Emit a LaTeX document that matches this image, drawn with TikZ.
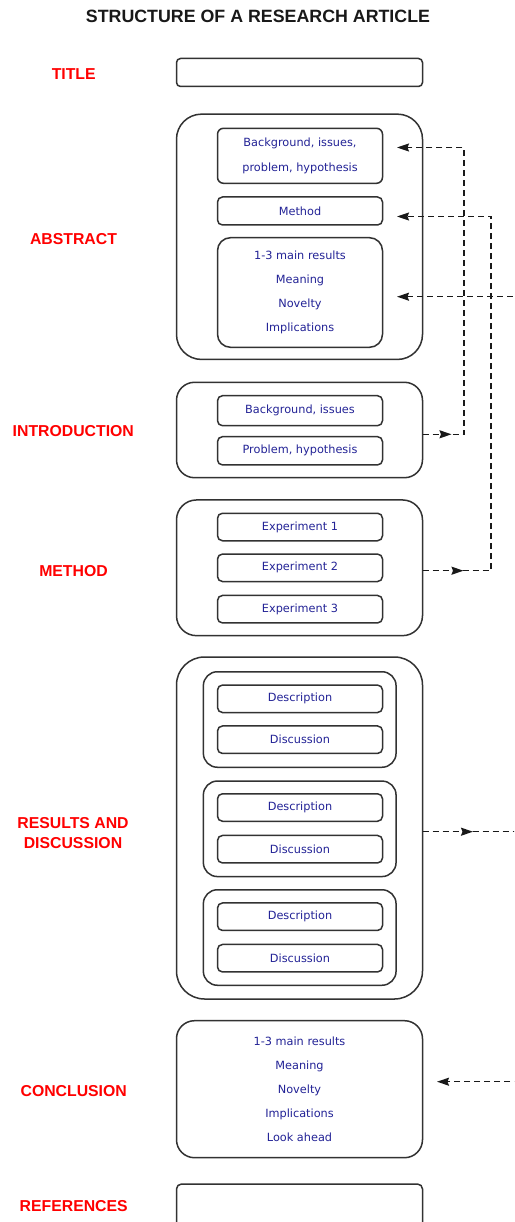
\documentclass[tikz,border=0pt]{standalone}
\usepackage{fontspec}
\setmainfont{DejaVu Sans}
\newfontfamily\labfont{Liberation Sans}
\usetikzlibrary{arrows.meta,decorations.markings}
\definecolor{navy}{RGB}{35,35,150}
\definecolor{edgegray}{RGB}{50,50,50}
\begin{document}
\begin{tikzpicture}[x=1pt,y=-1pt,
  box/.style={draw=edgegray,line width=1.5pt,rounded corners=5pt,inner sep=0pt,outer sep=0pt,
    font=\fontsize{11.3}{24.2}\selectfont,text=navy,align=center},
  outerbox/.style={box,minimum width=246pt},
  innerbox/.style={box,minimum width=165pt,minimum height=27.5pt},
  subbox/.style={box,minimum width=192.7pt,minimum height=95.5pt,rounded corners=14pt},
  lab/.style={font=\labfont\bfseries\fontsize{15.8}{19.5}\selectfont,text=red,align=center,inner sep=0pt},
  dashline/.style={draw=black!90,line width=1.4pt,dash pattern=on 6pt off 4pt},
  tip/.style={-{Stealth[length=12pt,width=8pt,inset=1.5pt]}},
  midarrow/.style={postaction={decorate,decoration={markings,
     mark=at position #1 with {\arrow{Stealth[length=12pt,width=8pt,inset=1.5pt]}}}}}
]
\useasboundingbox (0,0) rectangle (514,1222);
\clip (0,0) rectangle (514,1222);
\fill[white] (0,0) rectangle (514,1222);

% heading
\node[font=\labfont\bfseries\fontsize{17.8}{20}\selectfont,text=black!90,inner sep=0pt] (head) at (258,16) {STRUCTURE OF A RESEARCH ARTICLE};

% section labels
\node[lab] (ltitle) at (73.7,74) {TITLE};
\node[lab] (labs) at (73.5,239) {ABSTRACT};
\node[lab] (lintro) at (73.3,431) {INTRODUCTION};
\node[lab] (lmeth) at (73.5,571) {METHOD};
\node[lab] (lres) at (73,833) {RESULTS AND\\DISCUSSION};
\node[lab] (lconc) at (73.7,1090.7) {CONCLUSION};
\node[lab] (lref) at (73.7,1206) {REFERENCES};

% title
\node[outerbox,minimum height=28pt,rounded corners=4pt] (title) at (299.5,72.5) {};

% abstract
\node[outerbox,minimum height=245.3pt,rounded corners=25pt] (abstract) at (299.5,236.8) {};
\node[innerbox,minimum height=55pt,rounded corners=6pt] (a1) at (300,155.8) {Background, issues,\\problem, hypothesis};
\node[innerbox,minimum height=28pt] (a2) at (300,211) {Method};
\node[innerbox,minimum height=109.6pt,rounded corners=13pt] (a3) at (300,292.5) {1-3 main results\\Meaning\\Novelty\\Implications};

% introduction
\node[outerbox,minimum height=95.4pt,rounded corners=18pt] (intro) at (299.5,430) {};
\node[innerbox,minimum height=30pt] (i1) at (300,410.7) {Background, issues};
\node[innerbox,minimum height=28.3pt] (i2) at (300,450.8) {Problem, hypothesis};

% method
\node[outerbox,minimum height=135.7pt,rounded corners=20pt] (method) at (299.5,567.8) {};
\node[innerbox] (m1) at (300,527) {Experiment 1};
\node[innerbox] (m2) at (300,567.8) {Experiment 2};
\node[innerbox] (m3) at (300,609.2) {Experiment 3};

% results and discussion
\node[outerbox,minimum height=342pt,rounded corners=28pt] (results) at (299.5,828) {};
\node[subbox] (s1) at (299.7,719.5) {};
\node[subbox] (s2) at (299.7,828.8) {};
\node[subbox] (s3) at (299.7,937.5) {};
\node[innerbox] (d1) at (300,698.8) {Description};
\node[innerbox] (q1) at (300,739.7) {Discussion};
\node[innerbox] (d2) at (300,807.5) {Description};
\node[innerbox] (q2) at (300,849.2) {Discussion};
\node[innerbox] (d3) at (300,916.7) {Description};
\node[innerbox] (q3) at (300,958.2) {Discussion};

% conclusion
\node[outerbox,minimum height=137pt,rounded corners=18pt] (conc) at (299.5,1089.2) {1-3 main results\\Meaning\\Novelty\\Implications\\Look ahead};

% references
\node[outerbox,minimum height=76pt,rounded corners=5pt] (refs) at (299.5,1222) {};

% connector points
\coordinate (ta1) at (397,147.5);
\coordinate (ta2) at (397,216.5);
\coordinate (ta3) at (397,296.7);
\coordinate (tc) at (437,1081.7);
\coordinate (k1) at (464,434.3);
\coordinate (k2) at (491,570.7);
\coordinate (k3) at (540,831.7);

% connectors
\draw[dashline,tip,midarrow=29pt] (intro.east |- k1) -- (k1) -- (k1 |- ta1) -- (ta1);
\draw[dashline,tip,midarrow=41pt] (method.east |- k2) -- (k2) -- (k2 |- ta2) -- (ta2);
\draw[dashline,tip,midarrow=50.5pt] (results.east |- k3) -- (k3) -- (k3 |- ta3) -- (ta3);
\draw[dashline,tip] (k3) -- (k3 |- tc) -- (tc);
\end{tikzpicture}
\end{document}
